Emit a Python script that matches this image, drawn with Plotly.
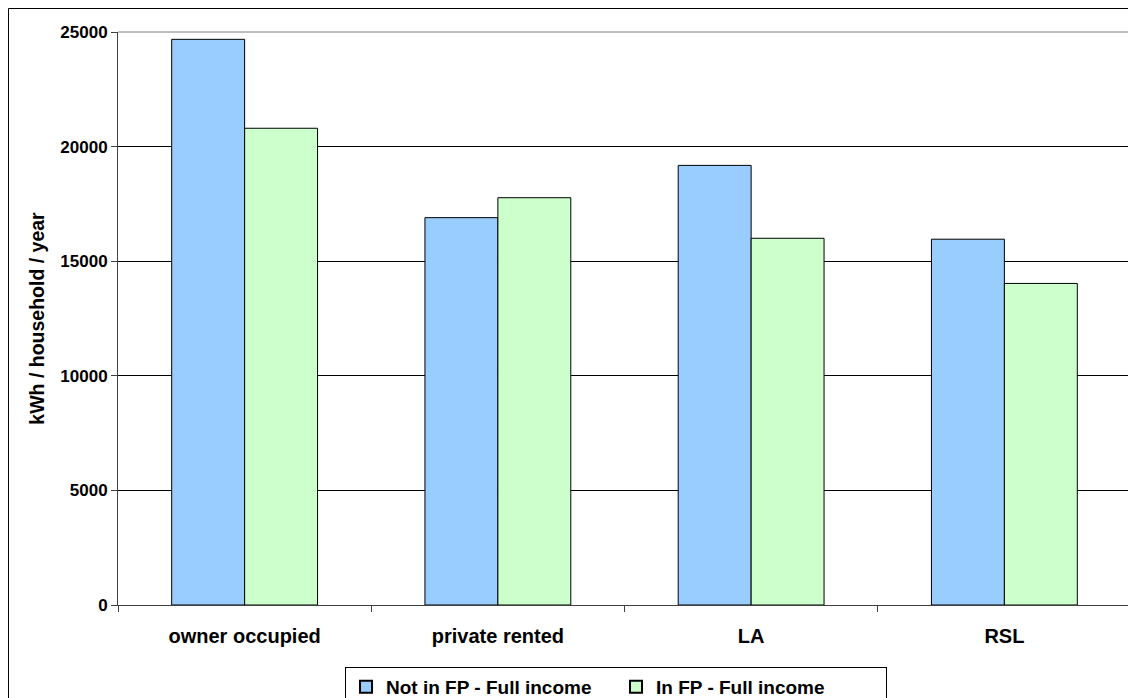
import plotly.graph_objects as go

categories = ["owner occupied", "private rented", "LA", "RSL"]
not_in_fp = [24680, 16900, 19180, 15960]
in_fp = [20800, 17770, 16000, 14030]
series_names = ["Not in FP - Full income", "In FP - Full income"]
y_ticks = [0, 5000, 10000, 15000, 20000, 25000]

FONT = "Liberation Sans, Arial, sans-serif"

fig = go.Figure()
fig.add_trace(go.Bar(x=categories, y=not_in_fp, name=series_names[0],
                     marker=dict(color="#99CCFF", line=dict(color="#000000", width=1))))
fig.add_trace(go.Bar(x=categories, y=in_fp, name=series_names[1],
                     marker=dict(color="#CCFFCC", line=dict(color="#000000", width=1))))

# page body has an 8px margin: compensate so the plot area lands at x 118-1131, y 32-605
fig.update_layout(
    width=1128, height=690,
    margin=dict(l=110, r=5, t=24, b=93, autoexpand=False),
    paper_bgcolor="white", plot_bgcolor="white",
    barmode="group", bargap=0.424, bargroupgap=0,
    font=dict(family=FONT, color="#000000", size=16, weight="bold"),
    showlegend=True,
    legend=dict(orientation="h", x=0.2241, xanchor="left", y=-0.108, yanchor="top",
                bordercolor="#000000", borderwidth=1, bgcolor="white",
                font=dict(family=FONT, size=19, weight="bold"),
                entrywidth=225, entrywidthmode="pixels", traceorder="normal",
                itemsizing="constant"),
    xaxis=dict(showgrid=False, showline=True, linecolor="#404040", linewidth=1,
               ticks="outside", tickson="boundaries", ticklen=6, tickcolor="#404040",
               tickfont=dict(family=FONT, size=20, weight="bold"),
               ticklabelstandoff=13, fixedrange=True),
    yaxis=dict(range=[0, 25000], tickvals=y_ticks, tickformat="d",
               showgrid=True, gridcolor="#000000", gridwidth=1,
               showline=True, linecolor="#404040", linewidth=1,
               ticks="outside", ticklen=6, tickcolor="#404040",
               tickfont=dict(family=FONT, size=17, weight="bold"),
               zeroline=False,
               title=dict(text="kWh / household / year", standoff=10,
                          font=dict(family=FONT, size=19.5, weight="bold")),
               fixedrange=True),
    shapes=[
        dict(type="line", xref="paper", yref="paper", x0=0, x1=1, y0=1, y1=1,
             line=dict(color="#808080", width=1)),
        dict(type="line", xref="paper", yref="paper", x0=1, x1=1, y0=0, y1=1,
             line=dict(color="#808080", width=1)),
        dict(type="rect", xref="paper", yref="paper", x0=-0.1081, x1=1.2,
             y0=-0.3, y1=1.041, line=dict(color="#000000", width=1),
             fillcolor="rgba(0,0,0,0)"),
    ],
)

fig.write_html("out.html")
